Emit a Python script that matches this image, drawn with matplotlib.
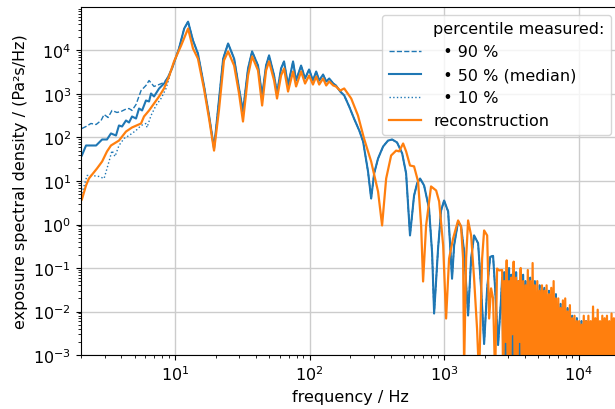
import matplotlib
matplotlib.use("Agg")
import matplotlib.pyplot as plt
from matplotlib.lines import Line2D
from matplotlib.ticker import LogLocator, NullFormatter

plt.rcParams.update({'font.size': 11.5})

# below ~10 Hz the measured percentiles differ (Hz, Pa^2 s/Hz)
f_p90_low = [2.03, 2.18, 2.37, 2.59, 2.82, 2.97, 3.18, 3.40, 3.70, 3.97, 4.25, 4.55,
             4.79, 5.13, 5.59, 6.08, 6.41, 6.98, 7.61, 8.28, 9.02, 9.83]
p90_low = [161, 179, 210, 199, 246, 338, 288, 418, 376, 396, 440, 464,
           418, 574, 1200, 1570, 2040, 1490, 1650, 1840, 2660, 5300]

f_p50_low = [2.03, 2.18, 2.59, 2.87, 3.12, 3.34, 3.64, 3.83, 4.04, 4.32, 4.55, 4.79,
             5.13, 5.40, 5.69, 6.08, 6.41, 6.63, 6.98, 7.61, 8.57, 9.50]
p50_low = [38.6, 65.5, 65.5, 90, 90, 124, 111, 189, 179, 246, 221, 304,
           273, 464, 418, 709, 673, 1026, 877, 1337, 1938, 3855]

f_p10_low = [2.03, 2.22, 2.41, 2.72, 2.97, 3.23, 3.40, 3.58, 3.83, 4.18, 4.55, 5.13,
             5.59, 6.08, 6.19, 6.63, 7.22, 7.87, 8.57, 9.50]
p10_low = [5.2, 13.4, 13.4, 12.7, 11.4, 28, 50, 36.6, 65.5, 95, 111, 145,
           189, 210, 170, 320, 544, 788, 1337, 3855]

# above ~10 Hz the three percentiles lie on top of each other
f_meas = [10.7, 11.7, 12.5, 13.6, 14.8, 16.4, 17.9, 19.5, 20.9, 22.8, 24.8, 27.5, 29.9,
          32.0, 34.9, 37.4, 41.4, 44.4, 47.5, 50.0, 54.5, 57.3, 61.4, 64.6, 69.2, 75.4,
          79.4, 86.5, 92.6, 99.2, 106, 112, 118, 126, 133, 140, 150, 157, 169, 181, 197,
          214, 234, 250, 272, 287, 302, 323, 352, 383, 411, 447, 488, 522, 558, 598, 630,
          663, 710, 773, 815, 843, 902, 950, 1000, 1072, 1109, 1146, 1187, 1271, 1337,
          1409, 1508, 1588, 1671, 1790, 1885, 1984, 2090, 2200, 2313, 2395, 2520, 2653]
p_meas = [1.11e4, 3.2e4, 4.6e4, 1.7e4, 8.5e3, 1.57e3, 320, 56, 464, 6.5e3, 1.45e4, 6.5e3,
          1.34e3, 396, 3.86e3, 9.5e3, 4.5e3, 877, 4.5e3, 7.7e3, 2.66e3, 1.03e3, 3.86e3,
          5.6e3, 1.57e3, 5.6e3, 2.04e3, 4.5e3, 2.27e3, 3.66e3, 2.04e3, 3.29e3, 2.04e3,
          2.8e3, 1.94e3, 2.27e3, 1.74e3, 1.57e3, 1.14e3, 925, 516, 273, 145, 81, 16.5,
          3.96, 14.9, 33, 62, 85, 90, 77, 43, 14.9, 0.56, 4.6, 8.8, 11.4, 7.9, 2.33,
          0.215, 0.009, 0.28, 2.1, 3.56, 1.99, 0.33, 0.057, 0.33, 1.17, 0.9, 0.24,
          0.0081, 0.165, 0.56, 0.37, 0.034, 0.0018, 0.034, 0.18, 0.19, 0.034, 0.0017, 0.020]

f_rec = [2.03, 2.18, 2.29, 2.63, 2.87, 3.12, 3.34, 3.83, 4.32, 4.79, 5.59, 5.88, 6.41,
         6.98, 7.61, 8.28, 9.02, 9.83, 11.1, 12.5, 13.6, 14.8, 16.4, 17.9, 19.5, 21.2,
         23.1, 24.8, 27.5, 29.9, 32.0, 34.9, 37.4, 41.4, 44.4, 47.5, 50.0, 54.5, 57.3,
         61.4, 64.6, 69.2, 75.4, 79.4, 86.5, 92.6, 99.2, 106, 112, 118, 126, 133, 140,
         150, 157, 169, 181, 204, 229, 254, 287, 323, 346, 371, 404, 440, 463, 496, 522,
         558, 598, 641, 675, 698, 735, 800, 873, 919, 984, 1035, 1089, 1167, 1271, 1337,
         1384, 1409, 1458, 1508, 1588, 1671, 1758, 1820, 1917, 1984, 2090, 2161, 2235,
         2313, 2395, 2477, 2565]
p_rec = [3.76, 7.9, 11.4, 19.4, 28, 47.7, 65.5, 85, 137, 170, 210, 304, 418, 605, 877,
         1.34e3, 2.52e3, 5.6e3, 1.3e4, 3.2e4, 1.11e4, 6.5e3, 1.34e3, 273, 50, 418, 5.9e3,
         9.5e3, 4.5e3, 1.03e3, 233, 2.66e3, 7.3e3, 3.47e3, 544, 3.47e3, 5.6e3, 2.04e3,
         788, 2.66e3, 3.86e3, 1.14e3, 3.29e3, 1.49e3, 3.29e3, 1.74e3, 2.66e3, 1.65e3,
         2.52e3, 1.65e3, 2.27e3, 1.57e3, 1.94e3, 1.57e3, 1.49e3, 1.2e3, 1.34e3, 788, 320,
         95, 28, 5.7, 0.95, 11.4, 38.6, 50, 48, 72.8, 48, 22.7, 21.7, 9.7, 0.95, 0.049,
         0.95, 7.5, 6.05, 3.38, 0.33, 0.0069, 0.165, 0.48, 1.24, 0.9, 0.165, 5e-4, 0.165,
         1.24, 0.56, 0.057, 0.004, 3e-4, 0.165, 0.73, 0.56, 0.0069, 0.034, 0.020, 3e-4,
         0.097, 0.088]

# dense high-frequency band, read as alternating peak / floor values
f_hf = [2700, 2750, 2800, 2860, 2920, 2980, 3040, 3100, 3160, 3220,
        3290, 3360, 3430, 3500, 3570, 3640, 3710, 3790, 3870, 3950,
        4030, 4110, 4190, 4280, 4370, 4460, 4550, 4640, 4730, 4830,
        4930, 5030, 5130, 5230, 5340, 5450, 5560, 5670, 5780, 5900,
        6020, 6140, 6260, 6390, 6520, 6650, 6780, 6920, 7060, 7200,
        7340, 7490, 7640, 7790, 7950, 8110, 8270, 8440, 8610, 8780,
        8960, 9140, 9320, 9510, 9700, 9890, 10090, 10290, 10500, 10710,
        10920, 11140, 11360, 11590, 11820, 12060, 12300, 12550, 12800, 13060,
        13320, 13590, 13860, 14140, 14420, 14710, 15000, 15300, 15610, 15920,
        16240, 16560, 16890, 17230, 17570, 17920, 18280, 18650, 19020, 19400]
p_meas_hf = [0.06, 1e-3, 0.08, 1e-4, 0.05, 2e-3, 0.1, 1e-4, 0.07, 1e-3,
             0.06, 1e-4, 0.08, 1e-3, 0.05, 1e-4, 0.06, 1e-4, 0.07, 1e-4,
             0.05, 1e-4, 0.04, 1e-4, 0.06, 1e-4, 0.03, 1e-4, 0.05, 1e-4,
             0.02, 1e-4, 0.04, 1e-4, 0.02, 1e-4, 0.035, 1e-4, 0.015, 1e-4,
             0.03, 1e-4, 0.015, 1e-4, 0.012, 1e-4, 0.025, 1e-4, 0.012, 1e-4,
             0.015, 1e-4, 0.012, 1e-4, 0.01, 1e-4, 0.012, 1e-4, 0.008, 1e-4,
             0.008, 1e-4, 0.006, 1e-4, 0.007, 1e-4, 0.005, 1e-4, 0.006, 1e-4,
             0.005, 1e-4, 0.006, 1e-4, 0.004, 1e-4, 0.005, 1e-4, 0.004, 1e-4,
             0.005, 1e-4, 0.004, 1e-4, 0.005, 1e-4, 0.004, 1e-4, 0.005, 1e-4,
             0.004, 1e-4, 0.005, 1e-4, 0.004, 1e-4, 0.005, 1e-4, 0.004, 1e-4]
p_rec_hf = [0.09, 1e-4, 0.05, 2e-3, 0.15, 1e-4, 0.05, 1e-4, 0.06, 3e-3,
            0.14, 1e-4, 0.06, 1e-4, 0.05, 2e-3, 0.1, 1e-4, 0.05, 1e-4,
            0.04, 1e-4, 0.09, 1e-4, 0.05, 1e-4, 0.13, 1e-4, 0.04, 1e-4,
            0.05, 1e-4, 0.03, 1e-4, 0.04, 1e-4, 0.03, 1e-4, 0.04, 1e-4,
            0.025, 1e-4, 0.035, 1e-4, 0.05, 1e-4, 0.02, 1e-4, 0.02, 1e-4,
            0.012, 1e-4, 0.018, 1e-4, 0.02, 1e-4, 0.01, 1e-4, 0.014, 1e-4,
            0.007, 1e-4, 0.008, 1e-4, 0.006, 1e-4, 0.006, 1e-4, 0.005, 1e-4,
            0.008, 1e-4, 0.006, 1e-4, 0.008, 1e-4, 0.006, 1e-4, 0.013, 1e-4,
            0.007, 1e-4, 0.011, 1e-4, 0.006, 1e-4, 0.008, 1e-4, 0.007, 1e-4,
            0.008, 1e-4, 0.006, 1e-4, 0.009, 1e-4, 0.007, 1e-4, 0.008, 1e-4]

blue = '#1f77b4'
orange = '#ff7f0e'

fig = plt.figure(figsize=(6.15, 4.1), dpi=100)
ax = fig.add_axes([0.1317, 0.1317, 0.875, 0.8488])

f_tail = f_meas + f_hf
p_tail = p_meas + p_meas_hf
ax.plot(f_p90_low + f_tail, p90_low + p_tail, color=blue, ls='--', lw=1.0)
ax.plot(f_p50_low + f_tail, p50_low + p_tail, color=blue, ls='-', lw=1.5)
ax.plot(f_p10_low + f_tail, p10_low + p_tail, color=blue, ls=':', lw=1.0)
ax.plot(f_rec + f_hf, p_rec + p_rec_hf, color=orange, lw=1.6)

ax.set_xscale('log')
ax.set_yscale('log')
ax.set_xlim(2.0, 2e4)
ax.set_ylim(1e-3, 1e5)
ax.yaxis.set_major_locator(LogLocator(base=10, numticks=20))
ax.yaxis.set_minor_locator(LogLocator(base=10, subs=range(2, 10), numticks=20))
ax.yaxis.set_minor_formatter(NullFormatter())
ax.set_yticks([1e-3, 1e-2, 1e-1, 1, 10, 100, 1e3, 1e4])
ax.grid(True, which='major', color='#cccccc', lw=1.0)
ax.set_axisbelow(True)

ax.set_xlabel('frequency / Hz')
ax.set_ylabel('exposure spectral density / (Pa²s/Hz)')

handles = [Line2D([], [], color='none'),
           Line2D([], [], color=blue, ls='--', lw=1.0),
           Line2D([], [], color=blue, ls='-', lw=1.5),
           Line2D([], [], color=blue, ls=':', lw=1.0),
           Line2D([], [], color=orange, lw=1.6)]
labels = ['percentile measured:', '  • 90 %', '  • 50 % (median)', '  • 10 %',
          'reconstruction']
ax.legend(handles, labels, loc='upper right')

fig.savefig('out.png', dpi=100)
